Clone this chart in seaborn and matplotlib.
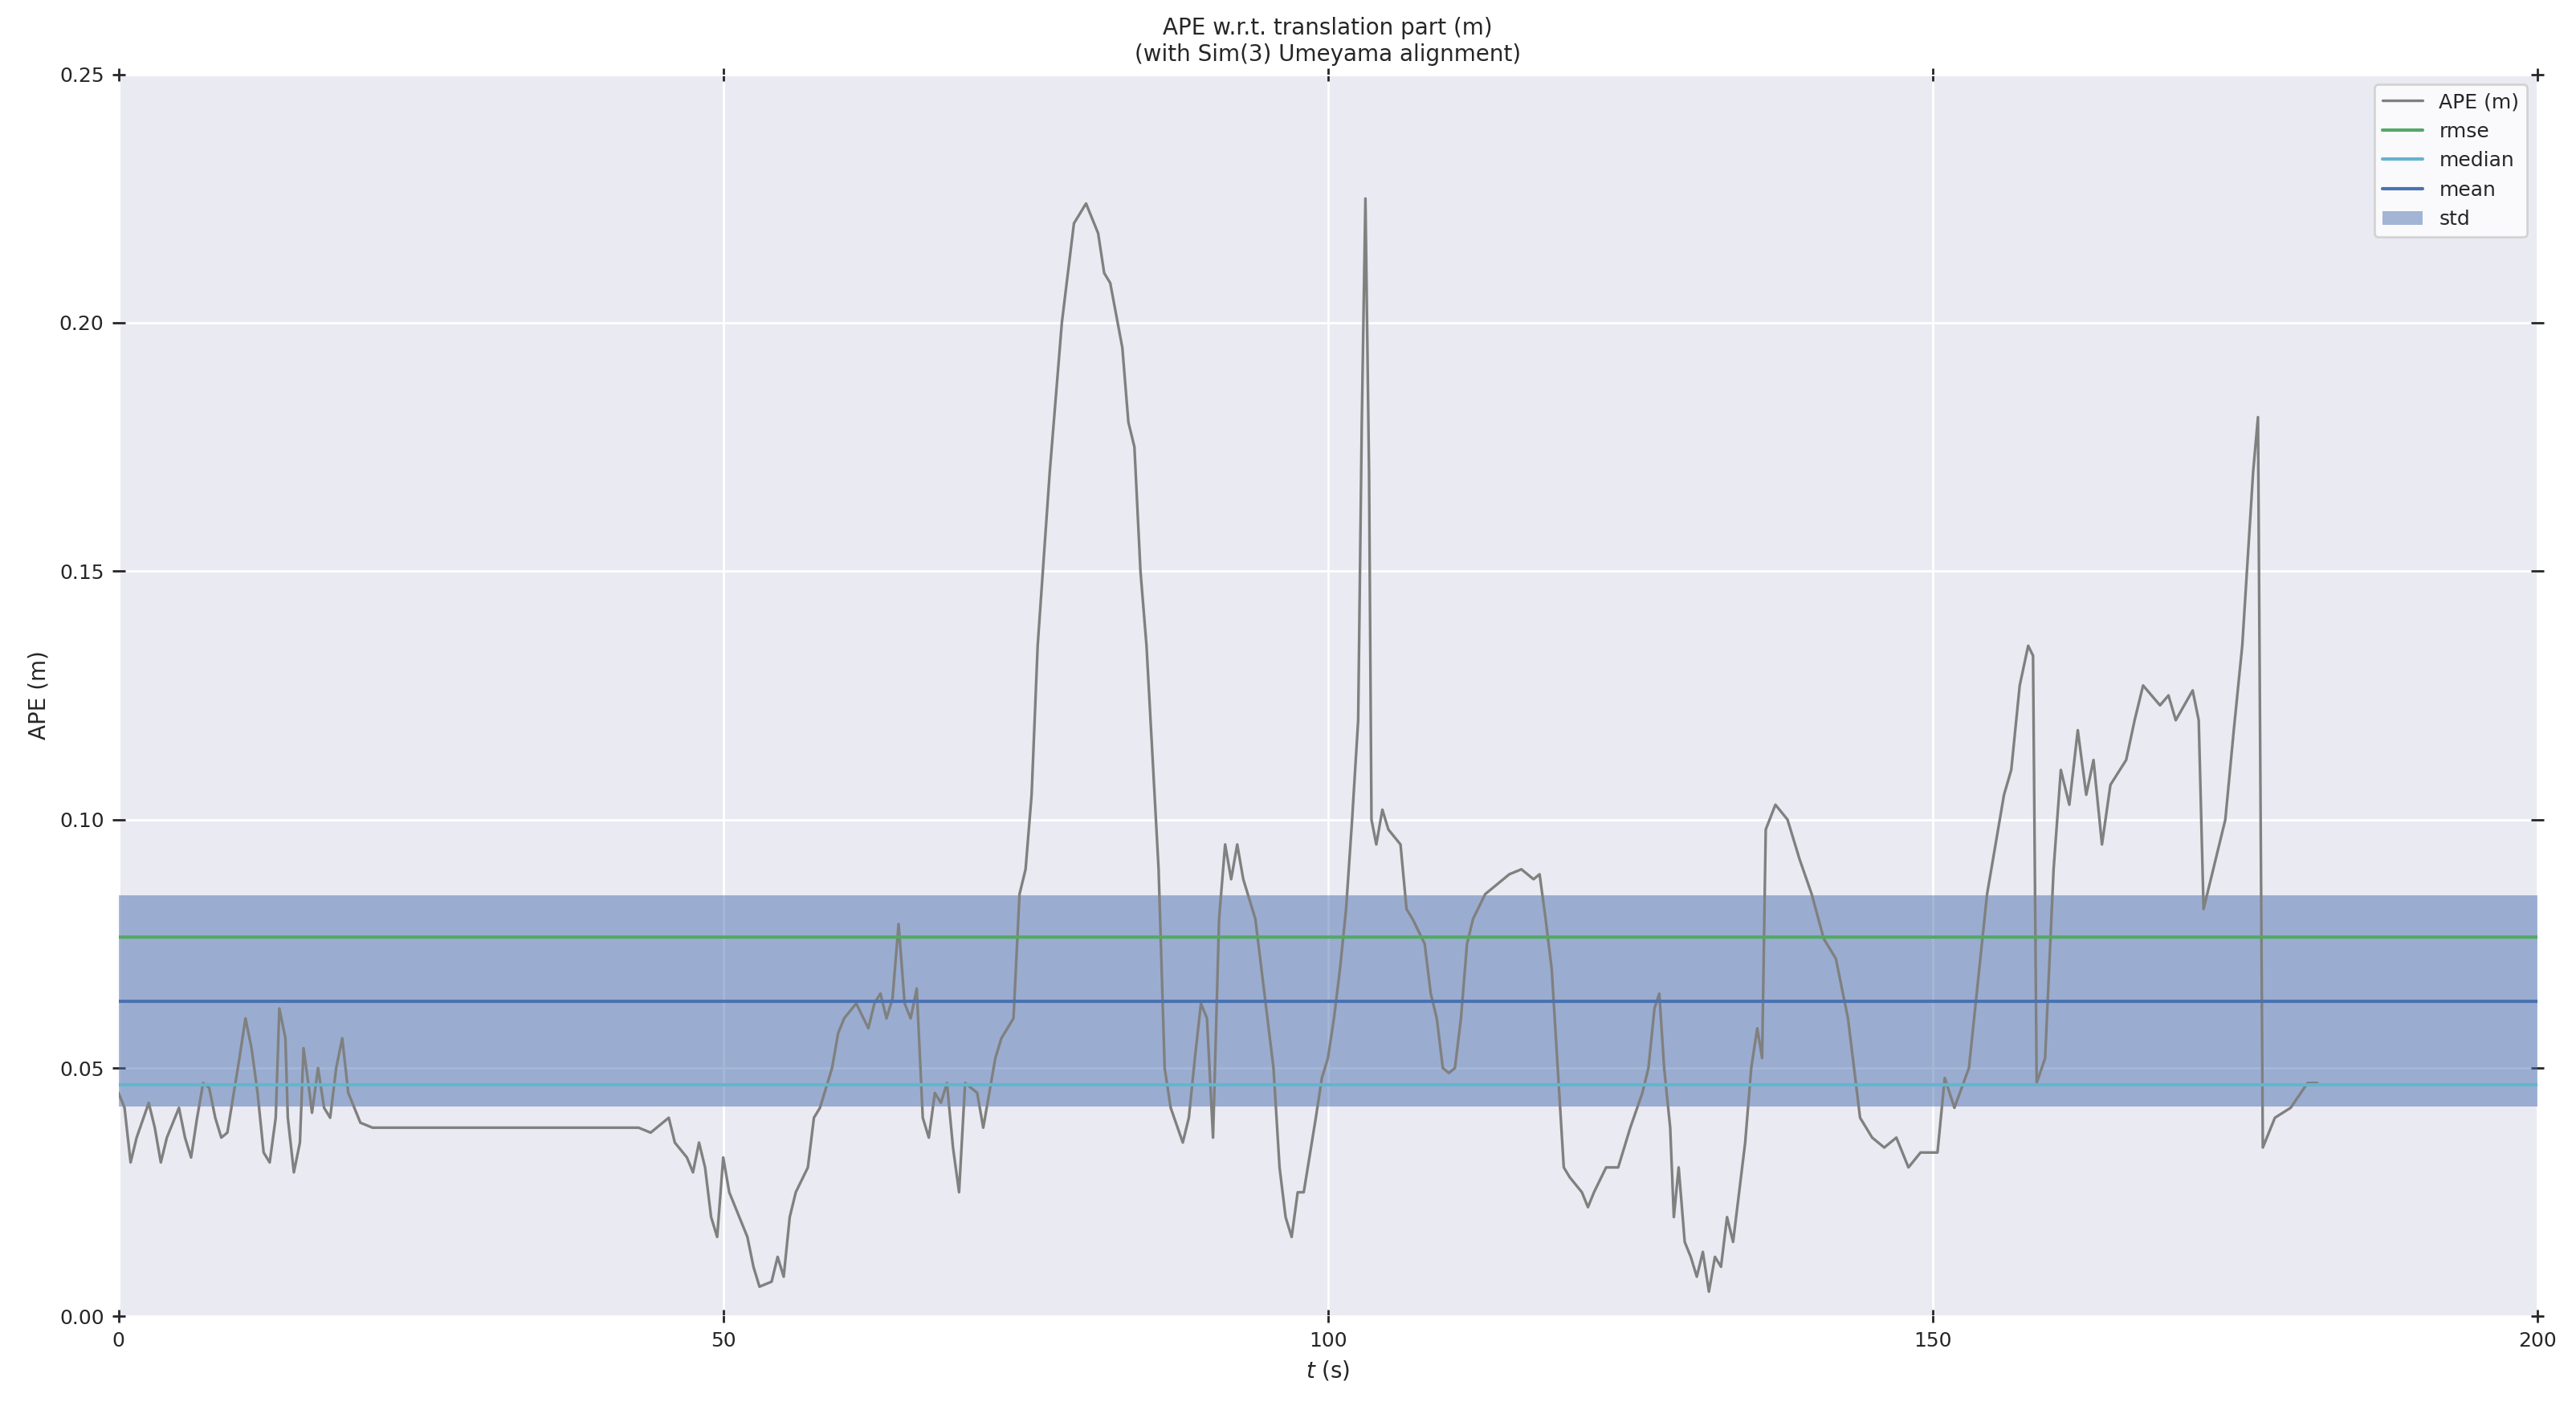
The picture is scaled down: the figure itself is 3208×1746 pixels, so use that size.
import numpy as np
import pandas as pd
import matplotlib
matplotlib.use('Agg')
import matplotlib.pyplot as plt
import seaborn as sns

# APE trace (t in s, APE in m)
t = [0, 0.5, 1, 1.5, 2.5, 3, 3.5, 4, 5, 5.5, 6, 6.5, 7, 7.5, 8, 8.5, 9, 10, 10.5, 11, 11.5, 12, 12.5, 13, 13.3, 13.8, 14, 14.5, 15, 15.3, 15.8, 16, 16.5, 17, 17.5, 18, 18.5, 19, 20, 21, 25, 30, 35, 40, 43, 44, 45, 45.5, 46, 47, 47.5, 48, 48.5, 49, 49.5, 50, 50.5, 51, 52, 52.5, 53, 54, 54.5, 55, 55.5, 56, 57, 57.5, 58, 59, 59.5, 60, 61, 62, 62.5, 63, 63.5, 64, 64.5, 65, 65.5, 66, 66.5, 67, 67.5, 68, 68.5, 69, 69.5, 70, 71, 71.5, 72, 72.5, 73, 74, 74.5, 75, 75.5, 76, 77, 78, 79, 80, 81, 81.5, 82, 83, 83.5, 84, 84.5, 85, 86, 86.5, 87, 88, 88.5, 89, 89.5, 90, 90.5, 91, 91.5, 92, 92.5, 93, 94, 95, 95.5, 96, 96.5, 97, 97.5, 98, 99, 99.5, 100, 100.5, 101, 101.5, 102, 102.5, 102.8, 103.1, 103.4, 103.6, 104, 104.5, 105, 106, 106.5, 107, 108, 108.5, 109, 109.5, 110, 110.5, 111, 111.5, 112, 113, 114, 115, 116, 117, 117.5, 118, 118.5, 119, 119.5, 120, 121, 121.5, 122, 123, 124, 125, 126, 126.5, 127, 127.4, 127.8, 128.3, 128.6, 129, 129.5, 130, 130.5, 131, 131.5, 132, 132.5, 133, 133.5, 134, 134.5, 135, 135.5, 135.9, 136.2, 137, 138, 139, 140, 141, 142, 143, 143.5, 144, 145, 146, 147, 148, 149, 150.4, 151, 151.8, 153, 154.5, 155.9, 156.5, 157.2, 157.9, 158.3, 158.6, 159.3, 160, 160.6, 161.3, 162, 162.7, 163.3, 164, 164.7, 166, 166.7, 167.4, 168.8, 169.5, 170.1, 171.5, 172, 172.4, 173.2, 174.2, 174.9, 175.6, 176.5, 176.9, 177.3, 178.3, 179.6, 181, 181.8]
ape = [0.045, 0.042, 0.031, 0.036, 0.043, 0.038, 0.031, 0.036, 0.042, 0.036, 0.032, 0.040, 0.047, 0.046, 0.040, 0.036, 0.037, 0.052, 0.060, 0.054, 0.045, 0.033, 0.031, 0.040, 0.062, 0.056, 0.040, 0.029, 0.035, 0.054, 0.045, 0.041, 0.050, 0.042, 0.040, 0.050, 0.056, 0.045, 0.039, 0.038, 0.038, 0.038, 0.038, 0.038, 0.038, 0.037, 0.039, 0.040, 0.035, 0.032, 0.029, 0.035, 0.030, 0.020, 0.016, 0.032, 0.025, 0.022, 0.016, 0.010, 0.006, 0.007, 0.012, 0.008, 0.020, 0.025, 0.030, 0.040, 0.042, 0.050, 0.057, 0.060, 0.063, 0.058, 0.063, 0.065, 0.060, 0.064, 0.079, 0.063, 0.060, 0.066, 0.040, 0.036, 0.045, 0.043, 0.047, 0.034, 0.025, 0.047, 0.045, 0.038, 0.045, 0.052, 0.056, 0.060, 0.085, 0.090, 0.105, 0.135, 0.170, 0.200, 0.220, 0.224, 0.218, 0.210, 0.208, 0.195, 0.180, 0.175, 0.150, 0.135, 0.090, 0.050, 0.042, 0.035, 0.040, 0.052, 0.063, 0.060, 0.036, 0.080, 0.095, 0.088, 0.095, 0.088, 0.080, 0.060, 0.050, 0.030, 0.020, 0.016, 0.025, 0.025, 0.040, 0.048, 0.052, 0.060, 0.070, 0.082, 0.100, 0.120, 0.180, 0.225, 0.170, 0.100, 0.095, 0.102, 0.098, 0.095, 0.082, 0.080, 0.075, 0.065, 0.060, 0.050, 0.049, 0.050, 0.060, 0.075, 0.080, 0.085, 0.087, 0.089, 0.090, 0.088, 0.089, 0.080, 0.070, 0.050, 0.030, 0.028, 0.025, 0.022, 0.025, 0.030, 0.030, 0.038, 0.045, 0.050, 0.062, 0.065, 0.050, 0.038, 0.020, 0.030, 0.015, 0.012, 0.008, 0.013, 0.005, 0.012, 0.010, 0.020, 0.015, 0.025, 0.035, 0.050, 0.058, 0.052, 0.098, 0.103, 0.100, 0.092, 0.085, 0.076, 0.072, 0.060, 0.050, 0.040, 0.036, 0.034, 0.036, 0.030, 0.033, 0.033, 0.048, 0.042, 0.050, 0.085, 0.105, 0.110, 0.127, 0.135, 0.133, 0.047, 0.052, 0.090, 0.110, 0.103, 0.118, 0.105, 0.112, 0.095, 0.107, 0.112, 0.120, 0.127, 0.123, 0.125, 0.120, 0.126, 0.120, 0.082, 0.090, 0.100, 0.118, 0.135, 0.170, 0.181, 0.034, 0.040, 0.042, 0.047, 0.047]

rmse = 0.0764
median = 0.0466
mean = 0.0635
std = 0.0212

sns.set_theme(style='darkgrid')
plt.rcParams['font.family'] = ['DejaVu Sans']
plt.rcParams['xtick.bottom'] = True
plt.rcParams['xtick.top'] = True
plt.rcParams['ytick.left'] = True
plt.rcParams['ytick.right'] = True

df = pd.DataFrame({'t': t, 'ape': ape})

fig, ax = plt.subplots(figsize=(16.04, 8.73), dpi=200)
sns.lineplot(data=df, x='t', y='ape', ax=ax, color='gray', lw=1.2, label='APE (m)')
ax.axhline(rmse, color='#55a868', lw=1.5, label='rmse')
ax.axhline(median, color='#64b5cd', lw=1.5, label='median')
ax.axhline(mean, color='#4c72b0', lw=1.5, label='mean')
ax.axhspan(mean - std, mean + std, color='#4c72b0', alpha=0.5, lw=0, label='std')

ax.set_xlim(0, 200)
ax.set_ylim(0, 0.25)
ax.set_xticks([0, 50, 100, 150, 200])
ax.set_yticks([0, 0.05, 0.10, 0.15, 0.20, 0.25])
ax.set_yticklabels(['0.00', '0.05', '0.10', '0.15', '0.20', '0.25'])
ax.tick_params(axis='both', which='both', length=6, width=1, color='#262626', labelsize=9, direction='inout')
ax.set_xlabel('$t$ (s)', fontsize=10)
ax.set_ylabel('APE (m)', fontsize=10)
ax.set_title('APE w.r.t. translation part (m)\n(with Sim(3) Umeyama alignment)', fontsize=10)
leg = ax.legend(loc='upper right', fontsize=9, frameon=True, facecolor='white', framealpha=0.8)
for s in ax.spines.values():
    s.set_visible(False)

plt.subplots_adjust(left=0.046, right=0.985, top=0.947, bottom=0.061)
plt.savefig('out.png', dpi=200)
